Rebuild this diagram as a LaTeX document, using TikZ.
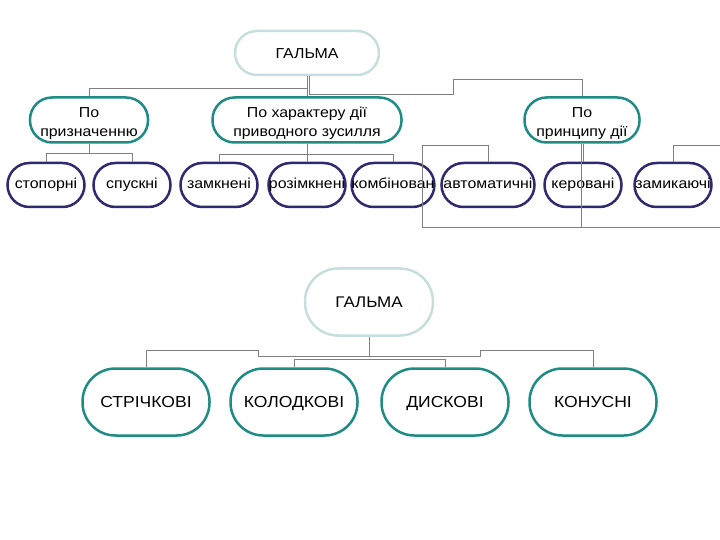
\documentclass[tikz,border=0pt]{standalone}
\usepackage{fontspec}
\setmainfont{Liberation Sans}[FakeStretch=1.1]
\definecolor{rootline}{HTML}{C6DFDE}
\definecolor{tealline}{HTML}{1E8C84}
\definecolor{navyline}{HTML}{2F2A70}
\definecolor{linkgrey}{HTML}{808080}

\begin{document}
\begin{tikzpicture}[x=1bp,y=-1bp]
    \tikzstyle{root}=[draw=rootline,line width=2.5bp,rectangle,rounded corners=22bp,inner sep=0pt,text height=10.5bp,text depth=0bp,font=\fontsize{14.5}{18}\selectfont]
    \tikzstyle{group}=[draw=tealline,line width=2.5bp,rectangle,rounded corners=22bp,align=center,inner sep=0pt,minimum height=45bp,text height=36bp,text depth=3bp,font=\fontsize{14.5}{19.5}\selectfont]
    \tikzstyle{kind}=[draw=navyline,line width=2.5bp,rectangle,rounded corners=22bp,inner sep=0pt,minimum height=44bp,minimum width=77bp,text height=10.5bp,text depth=3bp,font=\fontsize{14.5}{18}\selectfont]
    \tikzstyle{link}=[draw=linkgrey,line width=1bp]

    \useasboundingbox (0,0) rectangle (720,540);

    % upper tree
    \node[root,minimum width=144bp,minimum height=44bp] at (307,53) (top) {ГАЛЬМА};

    \node[group,minimum width=118bp] at (89,120) (p1) {По\\призначенню};
    \node[group,minimum width=189bp] at (307,120) (p2) {По характеру дії\\приводного зусилля};
    \node[group,minimum width=115bp] at (582,120) (p3) {По\\принципу дії};

    \node[kind] at (46,185) (c1) {стопорні};
    \node[kind] at (132,185) (c2) {спускні};
    \node[kind] at (219,185) (c3) {замкнені};
    \node[kind] at (307,185) (c4) {розімкнені};
    \node[kind] at (393,185) (c5) {комбінован};
    \node[kind,minimum width=93bp] at (488,185) (c6) {автоматичні};
    \node[kind] at (583,185) (c7) {керовані};
    \node[kind] at (673,185) (c8) {замикаючі};

    \draw[link] (top.south) -- ++(0,12) -| (p1.north);
    \draw[link] (top.south) -- (p2.north);
    \draw[link] ([xshift=2bp]top.south) -- ++(0,18) -| ++(144,-15) -| (p3.north);

    \draw[link] (p1.south) -- ++(0,10) coordinate (j1) -| (c1.north);
    \draw[link] (j1) -| (c2.north);
    \draw[link] (p2.south) -- ++(0,11) coordinate (j2) -| (c3.north);
    \draw[link] (j2) -| (c5.north);
    \draw[link] (p2.south) -- (c4.north);
    \draw[link] ([xshift=1bp]p3.south) -- (c7.north);
    \draw[link] ([xshift=-1bp]p3.south) -- ++(0,84) coordinate (j3) -| ++(-159,-82) -| (c6.north);
    \draw[link] (j3) -| ++(149,-82) -| (c8.north);

    % lower tree
    \node[root,minimum width=128bp,minimum height=67bp,rounded corners=33bp,text height=11bp,font=\fontsize{15.5}{18}\selectfont] at (369,302) (bot) {ГАЛЬМА};

    \tikzstyle{brake}=[draw=tealline,line width=2.5bp,rectangle,rounded corners=33bp,inner sep=0pt,minimum width=127bp,minimum height=67bp,text height=12bp,text depth=0.5bp,font=\fontsize{16}{18}\selectfont]
    \node[brake] at (146,402) (d1) {СТРІЧКОВІ};
    \node[brake] at (294,402) (d2) {КОЛОДКОВІ};
    \node[brake] at (445,402) (d3) {ДИСКОВІ};
    \node[brake] at (593,402) (d4) {КОНУСНІ};

    \draw[link] (bot.south) -- ++(0,20) coordinate (k) -| ++(-111,-6) -| (d1.north);
    \draw[link] (k) -| ++(111,-6) -| (d4.north);
    \draw[link] (d2.north) |- ([yshift=-3bp]k) -| (d3.north);
\end{tikzpicture}
\end{document}
